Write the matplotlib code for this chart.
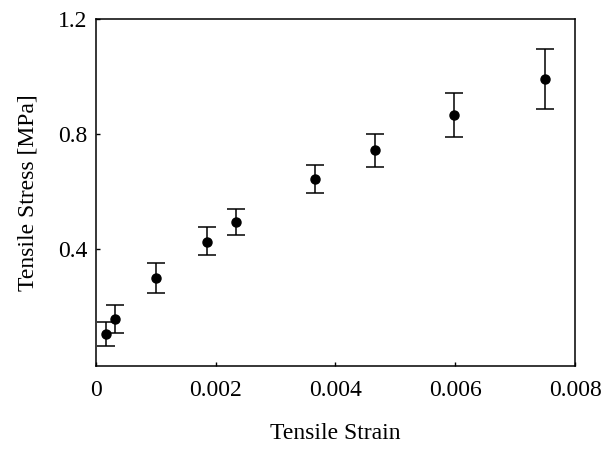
import matplotlib.pyplot as plt
import matplotlib as mpl

# values
strain = [0.00017, 0.00032, 0.00100, 0.00185, 0.00234, 0.00366, 0.00466, 0.00598, 0.00750]
stress = [0.104, 0.157, 0.299, 0.424, 0.494, 0.643, 0.744, 0.866, 0.991]
err_low = [0.041, 0.049, 0.052, 0.045, 0.045, 0.048, 0.059, 0.076, 0.104]
err_high = [0.042, 0.048, 0.052, 0.053, 0.045, 0.049, 0.056, 0.077, 0.105]

x_ticks = [0, 0.002, 0.004, 0.006, 0.008]
x_tick_labels = ["0", "0.002", "0.004", "0.006", "0.008"]
y_ticks = [0.4, 0.8, 1.2]
y_tick_labels = ["0.4", "0.8", "1.2"]

mpl.rc('font', family='Liberation Serif')
fig = plt.figure(figsize=(6.06, 4.5), dpi=100)
axs = fig.add_axes([0.158, 0.187, 0.791, 0.771])

axs.errorbar(strain, stress, yerr=[err_low, err_high], fmt="o", color="black",
             ms=6.5, capsize=6.5, elinewidth=1.1, capthick=1.1)

axs.set_xlim(0, 0.008)
axs.set_ylim(-0.007, 1.2)
axs.set_xticks(x_ticks)
axs.set_xticklabels(x_tick_labels, fontsize=17)
axs.set_yticks(y_ticks)
axs.set_yticklabels(y_tick_labels, fontsize=17)
axs.tick_params(direction='in', length=3, width=1)
axs.tick_params(axis='x', pad=10)
axs.tick_params(axis='y', pad=6)

for sp in axs.spines.values():
    sp.set_linewidth(1.1)

axs.set_xlabel("Tensile Strain", fontsize=17, labelpad=16)
axs.set_ylabel("Tensile Stress [MPa]", fontsize=17, labelpad=14)

plt.savefig("out.png", dpi=100)
